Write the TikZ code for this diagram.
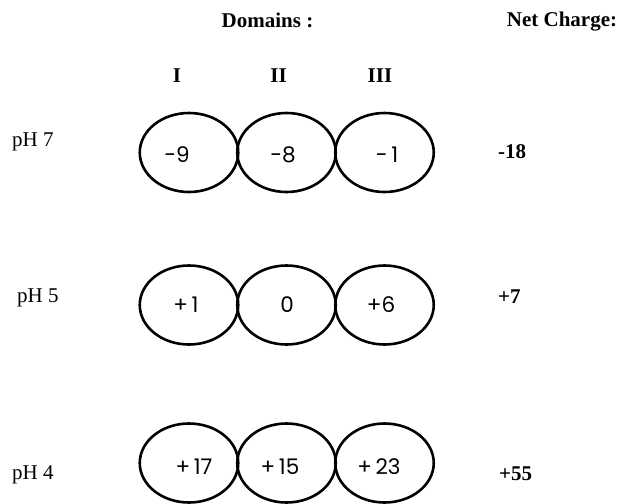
\documentclass[tikz,border=0pt]{standalone}
\usepackage{fontspec}
\setmainfont{Liberation Serif}
\newfontfamily\geofont{Poppins}
\usetikzlibrary{shapes.geometric}
\tikzset{
  domoval/.style={draw, ellipse, line width=2.6pt, minimum width=98.5pt, minimum height=79pt, inner sep=0pt},
  dval/.style={font=\geofont\fontsize{21.5}{21.5}\selectfont, inner sep=0pt, anchor=center},
  head/.style={font=\bfseries\fontsize{21}{21}\selectfont, inner sep=0pt, anchor=base},
  phlab/.style={font=\fontsize{21}{21}\selectfont, inner sep=0pt, anchor=base west},
  net/.style={font=\bfseries\fontsize{21}{21}\selectfont, inner sep=0pt, anchor=base west}
}
\begin{document}
\begin{tikzpicture}[x=1pt,y=-1pt]
\useasboundingbox[fill=white] (0,0) rectangle (620,503);
% headers
\node[head] (hdom) at (267.5,28) {Domains :};
\node[head] (hnet) at (562,27) {Net Charge:};
\node[head] (r1) at (177,82) {I};
\node[head] (r2) at (278.5,82) {II};
\node[head] (r3) at (380,82) {III};
% pH 7
\node[phlab] (ph7) at (12,146) {pH 7};
\node[domoval] (a1) at (189,152.5) {};
\node[domoval] (a2) at (286.5,152.5) {};
\node[domoval] (a3) at (384.5,152.5) {};
\node[dval] (ta1) at (177,155) {-9};
\node[dval] (ta2) at (283,155) {-8};
\node[dval] (ta3) at (387,155) {-\,1};
\node[net] (na) at (498,158) {-18};
% pH 5
\node[phlab] (ph5) at (17,302) {pH 5};
\node[domoval] (b1) at (189,305) {};
\node[domoval] (b2) at (286.5,305) {};
\node[domoval] (b3) at (384.5,305) {};
\node[dval] (tb1) at (186,305) {+\,1};
\node[dval] (tb2) at (287,305) {0};
\node[dval] (tb3) at (381,305) {+6};
\node[net] (nb) at (498,303) {+7};
% pH 4
\node[phlab] (ph4) at (12,479) {pH 4};
\node[domoval] (c1) at (189,463) {};
\node[domoval] (c2) at (286.5,463) {};
\node[domoval] (c3) at (384.5,463) {};
\node[dval] (tc1) at (194,467) {+\,17};
\node[dval] (tc2) at (280,467) {+\,15};
\node[dval] (tc3) at (379,467) {+\,23};
\node[net] (nc) at (499,480) {+55};
\end{tikzpicture}
\end{document}
